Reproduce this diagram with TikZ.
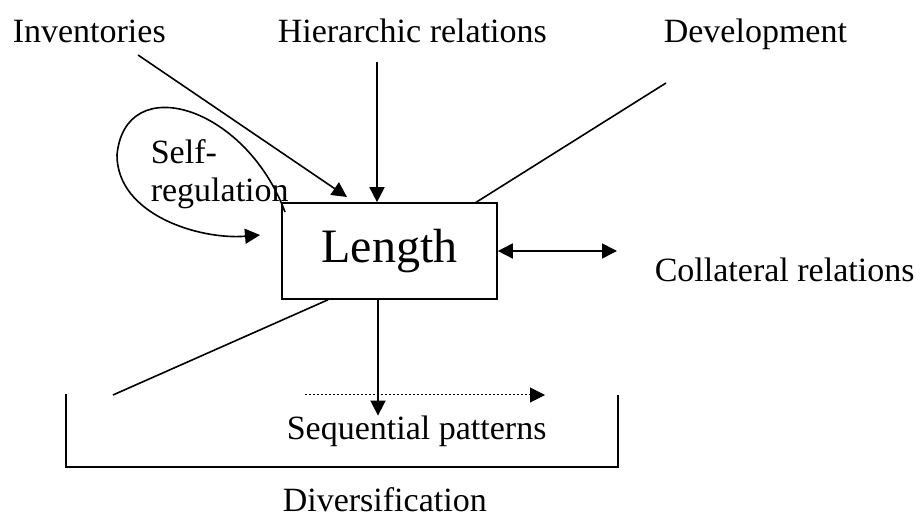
\documentclass[tikz,border=0pt]{standalone}
\usepackage{fontspec}
\setmainfont{Liberation Serif}
\usetikzlibrary{arrows.meta}

\begin{document}
\begin{tikzpicture}[x=0.5pt,y=-0.5pt,line width=0.8pt,
	lbl/.style={anchor=base west,inner sep=0pt,font=\fontsize{17}{19}\selectfont},
	arr/.style={-{Triangle[length=7.5pt,width=7.5pt]}},
	dblarr/.style={{Triangle[length=7.5pt,width=7.5pt]}-{Triangle[length=7.5pt,width=7.5pt]}}]
			\useasboundingbox (0,0) rectangle (920,522);
			\node[lbl] (inv) at (12,43) {Inventories};
			\node[lbl] (hier) at (277,43) {Hierarchic relations};
			\node[lbl] (dev) at (663,43) {Development};
			\node[lbl,anchor=north west,align=left] (self) at (150,139) {Self-\\regulation};
			\node[draw,minimum width=107.5pt,minimum height=48pt,inner sep=0pt,
				font=\fontsize{24}{28}\selectfont] (len) at (389.5,251) {Length};
			\node[lbl] (coll) at (654,282) {Collateral relations};
			\node[lbl] (seq) at (286,440) {Sequential patterns};
			\node[lbl] (div) at (282,512) {Diversification};
			\coordinate (invtail) at (138,55);
			\coordinate (invhead) at (347,197);
			\coordinate (hiertail) at (377,62);
			\coordinate (devtail) at (666,83);
			\coordinate (devhead) at (475,203);
			\coordinate (selfout) at (285,212);
			\coordinate (selfin) at (260,235);
			\coordinate (collhead) at (617,251);
			\coordinate (lowtail) at (113,395);
			\coordinate (dotstart) at (305,395);
			\coordinate (dotend) at (545,395);
			\coordinate (brtl) at (66,394);
			\coordinate (brbl) at (66,467);
			\coordinate (brbr) at (618,467);
			\coordinate (brtr) at (618,395);
			\draw[arr] (invtail) -- (invhead);
			\draw[arr] (hiertail) -- (hiertail |- len.north);
			\draw (devtail) -- (devhead);
			\draw[arr] (selfout) .. controls (245,105) and (125,70) .. (117,155)
				.. controls (117,215) and (200,240) .. (selfin);
			\draw[dblarr] (len.east) -- (collhead);
			\draw ([xshift=-30.75pt]len.south) -- (lowtail);
			\draw[arr] ([xshift=-5.75pt]len.south) -- ([xshift=-5.75pt]len.south |- seq.north);
			\draw[arr,line width=0.5pt,dash pattern=on 1pt off 1pt] (dotstart) -- (dotend);
			\draw (brtl) -- (brbl) -- (brbr) -- (brtr);
		\end{tikzpicture}
\end{document}
